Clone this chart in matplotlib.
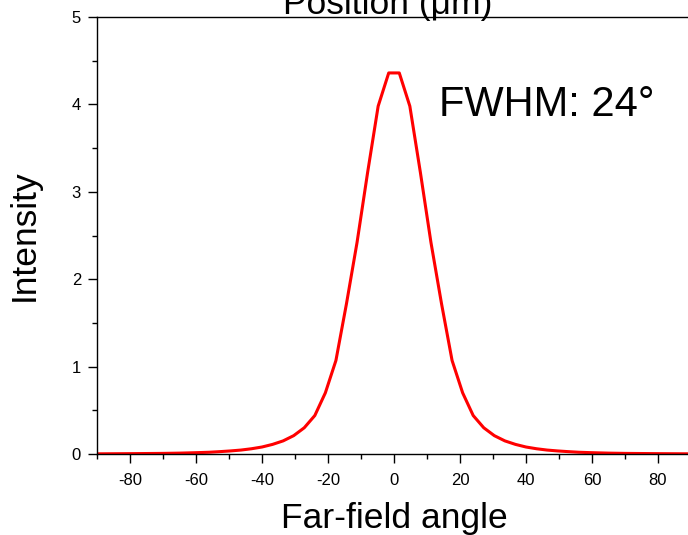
import matplotlib.pyplot as plt
from matplotlib.ticker import MultipleLocator

# far-field profile (symmetric about 0)
half_angle = [1.6, 4.8, 8.0, 11.2, 14.4, 17.6, 20.8, 24.0, 27.2, 30.4, 33.6,
              36.8, 40.0, 43.2, 46.4, 49.6, 52.8, 56.0, 60.0, 65.0, 70.0, 80.0, 90.0]
half_intensity = [4.36, 3.98, 3.22, 2.42, 1.72, 1.07, 0.70, 0.44, 0.30, 0.21, 0.15,
                  0.11, 0.08, 0.06, 0.045, 0.035, 0.027, 0.02, 0.015, 0.01, 0.007, 0.004, 0.002]

angle = [-a for a in half_angle[::-1]] + half_angle
intensity = half_intensity[::-1] + half_intensity

plt.rcParams['font.family'] = ['Liberation Sans', 'DejaVu Sans']
plt.rcParams['axes.unicode_minus'] = False

fig = plt.figure(figsize=(6.88, 5.35), dpi=100)
ax = fig.add_axes([97/688, 81/535, 594/688, 437/535])

ax.plot(angle, intensity, color='#ff0000', lw=2.2)

ax.set_xlim(-90, 90)
ax.set_ylim(0, 5)
ax.xaxis.set_major_locator(MultipleLocator(20))
ax.xaxis.set_minor_locator(MultipleLocator(10))
ax.yaxis.set_major_locator(MultipleLocator(1))
ax.yaxis.set_minor_locator(MultipleLocator(0.5))
ax.tick_params(which='major', direction='out', length=6.5, width=1, labelsize=12)
ax.tick_params(which='minor', direction='out', length=3.8, width=1)
ax.tick_params(axis='x', which='major', pad=7)
ax.tick_params(axis='y', which='major', pad=5)
for s in ax.spines.values():
    s.set_linewidth(1)

ax.set_xlabel('Far-field angle', fontsize=25.5, labelpad=10)
ax.set_ylabel('Intensity', fontsize=25.5, labelpad=22)

# top label, partly cut off in the original
fig.text(388/688, 1 - 14/535, 'Position (\u03bcm)', fontsize=25.5, ha='center', va='baseline')

ax.text(13.6, 3.87, 'FWHM: 24\u00b0', fontsize=30)

fig.savefig('out.png', dpi=100)
